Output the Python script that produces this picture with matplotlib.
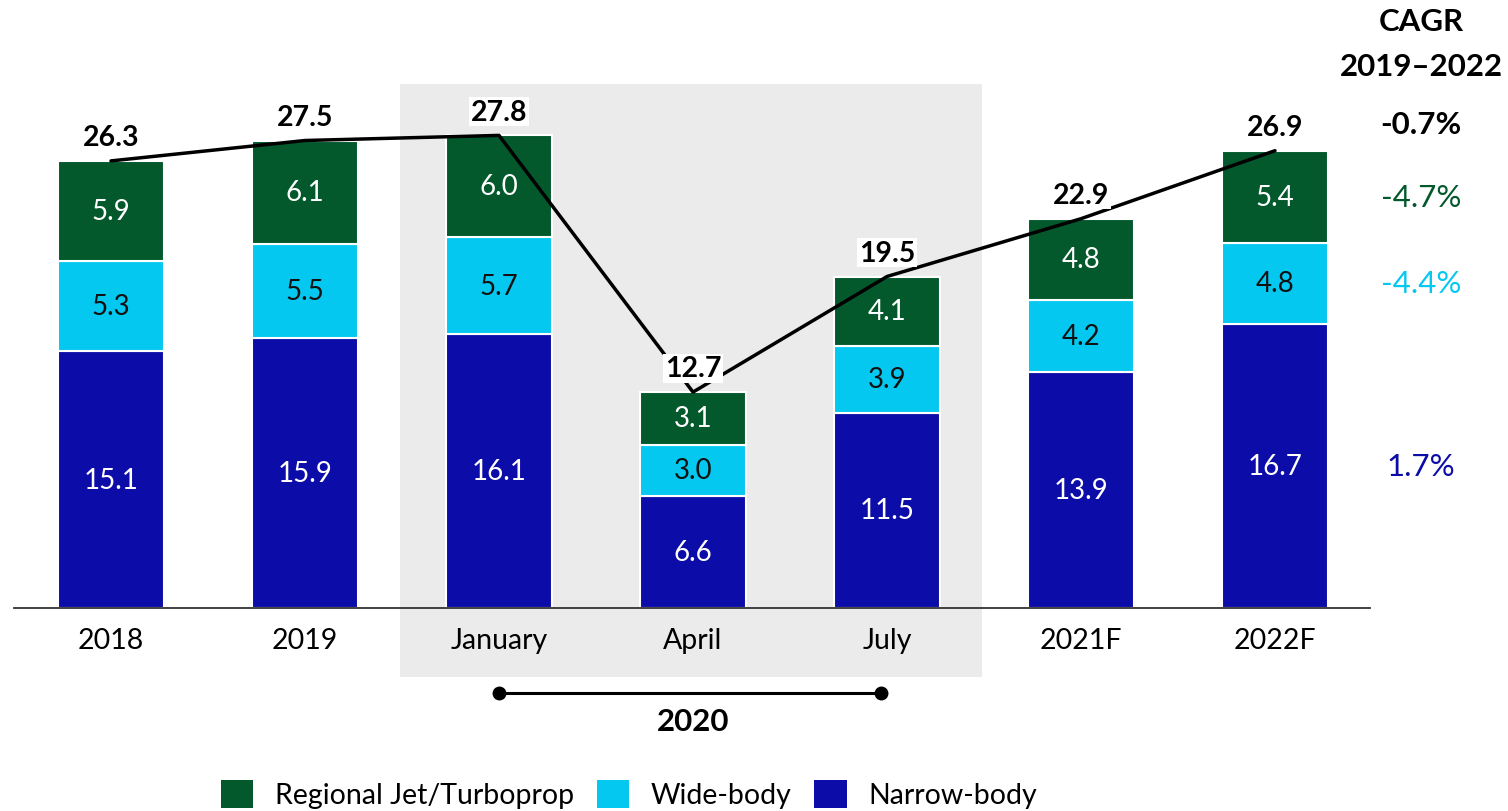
#!/usr/bin/env python3
# -*- coding: utf-8 -*-
"""
Fleet by aircraft segment, 2018-2022F, stacked bars + total line.
Output: out.png
"""

import matplotlib
matplotlib.use("Agg")
import matplotlib.pyplot as plt
from matplotlib.patches import Rectangle, Patch
import numpy as np

plt.rcParams["font.family"] = ["Lato", "DejaVu Sans"]

# data
CATEGORIES = ["2018", "2019", "January", "April", "July", "2021F", "2022F"]
NARROW = [15.1, 15.9, 16.1, 6.6, 11.5, 13.9, 16.7]
WIDE = [5.3, 5.5, 5.7, 3.0, 3.9, 4.2, 4.8]
REGIONAL = [5.9, 6.1, 6.0, 3.1, 4.1, 4.8, 5.4]
TOTALS = [26.3, 27.5, 27.8, 12.7, 19.5, 22.9, 26.9]

CAGR_HEAD = "CAGR"
CAGR_PERIOD = "2019\u20132022"
CAGR_TOTAL = "-0.7%"
CAGR_REGIONAL = "-4.7%"
CAGR_WIDE = "-4.4%"
CAGR_NARROW = "1.7%"

SHADED = ["January", "April", "July"]
SHADED_LABEL = "2020"

C_REG = "#03582C"
C_WIDE = "#05C8F0"
C_NARROW = "#0C0CA8"
C_SHADE = "#EBEBEB"

W_PX, H_PX = 1508, 812
PX_PER_CAT = 194.0
X0_PX = 111.0          # centre of first bar
BASE_PX = 609.0        # baseline
PX_PER_UNIT = 17.0

FS_VAL = 20
FS_TICK = 20.5
FS_TOT = 20.5
FS_CAGR = 22.5


def px_to_y(py):
    return (BASE_PX - py) / PX_PER_UNIT


def px_to_x(px):
    return (px - X0_PX) / PX_PER_CAT


def main():
    fig = plt.figure(figsize=(W_PX / 100, H_PX / 100), dpi=100)

    ax_left_px, ax_right_px = 14, 1370
    ax = fig.add_axes([ax_left_px / W_PX, (H_PX - BASE_PX) / H_PX,
                       (ax_right_px - ax_left_px) / W_PX, BASE_PX / H_PX])
    ax.set_xlim(px_to_x(ax_left_px), px_to_x(ax_right_px))
    ax.set_ylim(0, BASE_PX / PX_PER_UNIT)

    x = np.arange(len(CATEGORIES))
    narrow = np.array(NARROW)
    wide = np.array(WIDE)
    reg = np.array(REGIONAL)

    # grey 2020 block
    i0 = CATEGORIES.index(SHADED[0])
    i1 = CATEGORIES.index(SHADED[-1])
    ax.add_patch(Rectangle((i0 - 0.51, px_to_y(678)), (i1 - i0) + 1.0,
                           px_to_y(85) - px_to_y(678),
                           facecolor=C_SHADE, edgecolor="none",
                           clip_on=False, zorder=0))

    bw = 0.55
    kw = dict(width=bw, edgecolor="white", linewidth=1.5, zorder=2)
    ax.bar(x, narrow, color=C_NARROW, label="Narrow-body", **kw)
    ax.bar(x, wide, bottom=narrow, color=C_WIDE, label="Wide-body", **kw)
    ax.bar(x, reg, bottom=narrow + wide, color=C_REG,
           label="Regional Jet/Turboprop", **kw)

    # segment values
    for i in range(len(x)):
        ax.text(x[i], narrow[i] / 2, f"{narrow[i]:.1f}", ha="center", va="center",
                color="white", fontsize=FS_VAL, zorder=3)
        ax.text(x[i], narrow[i] + wide[i] / 2, f"{wide[i]:.1f}", ha="center",
                va="center", color="#111111", fontsize=FS_VAL, zorder=3)
        ax.text(x[i], narrow[i] + wide[i] + reg[i] / 2, f"{reg[i]:.1f}",
                ha="center", va="center", color="white", fontsize=FS_VAL, zorder=3)

    # total line
    ax.plot(x, TOTALS, color="black", linewidth=2.5, zorder=4,
            solid_capstyle="round", solid_joinstyle="round")
    for i, t in enumerate(TOTALS):
        ax.text(x[i], t + 1.4, f"{t:.1f}", ha="center", va="center",
                fontsize=FS_TOT, fontweight="bold", zorder=5,
                bbox=dict(facecolor="white", edgecolor="none", pad=1.0))

    # axis styling
    for s in ["top", "right", "left"]:
        ax.spines[s].set_visible(False)
    ax.spines["bottom"].set_color("#333333")
    ax.spines["bottom"].set_linewidth(1.3)
    ax.spines["bottom"].set_zorder(3)
    ax.set_yticks([])
    ax.set_xticks(x)
    ax.set_xticklabels(CATEGORIES, fontsize=FS_TICK)
    ax.tick_params(axis="x", length=0, pad=14)
    ax.patch.set_visible(False)

    # 2020 bracket
    yb = px_to_y(694)
    ax.plot([i0, px_to_x(881)], [yb, yb], color="black", linewidth=2.2,
            marker="o", markersize=9, clip_on=False, zorder=3)
    ax.text((i0 + i1) / 2, px_to_y(722), SHADED_LABEL,
            ha="center", va="center", fontsize=22.5, fontweight="bold")

    # CAGR column, aligned with the last bar's segments
    xc = px_to_x(1421)
    last = len(x) - 1
    ax.text(xc, px_to_y(22), CAGR_HEAD, ha="center", va="center",
            fontsize=FS_CAGR, fontweight="bold")
    ax.text(xc, px_to_y(67), CAGR_PERIOD, ha="center", va="center",
            fontsize=FS_CAGR, fontweight="bold")
    ax.text(xc, TOTALS[last] + 1.6, CAGR_TOTAL, ha="center", va="center",
            fontsize=FS_CAGR, fontweight="bold")
    ax.text(xc, narrow[last] + wide[last] + reg[last] / 2, CAGR_REGIONAL,
            ha="center", va="center", fontsize=FS_CAGR, color=C_REG)
    ax.text(xc, narrow[last] + wide[last] / 2, CAGR_WIDE,
            ha="center", va="center", fontsize=FS_CAGR, color=C_WIDE)
    ax.text(xc, narrow[last] / 2, CAGR_NARROW,
            ha="center", va="center", fontsize=FS_CAGR, color=C_NARROW)

    handles = [Patch(facecolor=C_REG, label="Regional Jet/Turboprop"),
               Patch(facecolor=C_WIDE, label="Wide-body"),
               Patch(facecolor=C_NARROW, label="Narrow-body")]
    fig.legend(handles=handles, loc="center", bbox_to_anchor=(0.417, 0.021),
               ncol=3, frameon=False, fontsize=20.5, handlelength=1.15,
               handleheight=1.15, handletextpad=0.75, columnspacing=0.8,
               borderaxespad=0)

    fig.savefig("out.png", dpi=100)
    plt.close(fig)


if __name__ == "__main__":
    main()
